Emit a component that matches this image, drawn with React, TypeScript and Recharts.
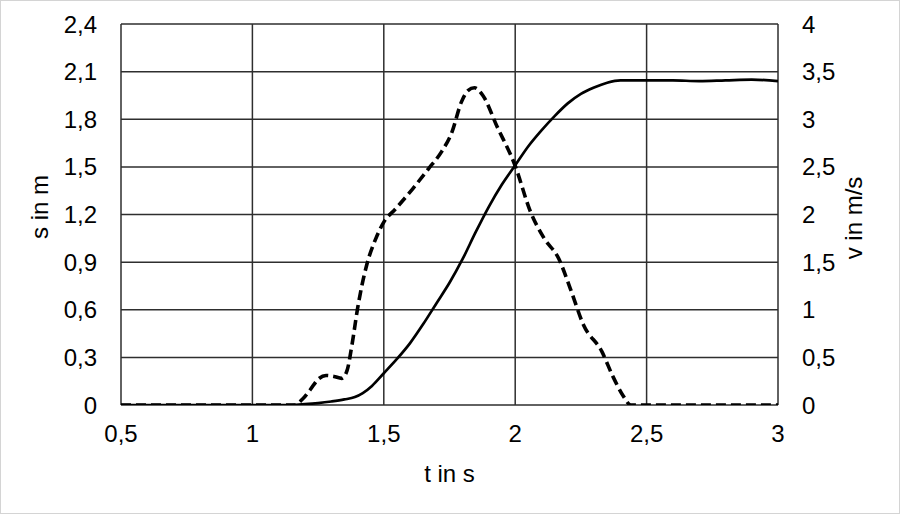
import { LineChart, Line, XAxis, YAxis, CartesianGrid, Label } from "recharts";

// position over time (s in m)
const sTimes = [
  0.5, 1.0, 1.15, 1.2, 1.25, 1.3, 1.35, 1.39, 1.42, 1.455, 1.5, 1.55, 1.6, 1.65,
  1.7, 1.75, 1.8, 1.85, 1.9, 1.95, 2.0, 2.05, 2.1, 2.15, 2.2, 2.25, 2.3, 2.35,
  2.4, 2.5, 2.6, 2.7, 2.8, 2.9, 3.0,
];
const sValues = [
  0, 0, 0, 0.005, 0.012, 0.022, 0.035, 0.05, 0.075, 0.12, 0.2, 0.29, 0.39, 0.51,
  0.64, 0.77, 0.92, 1.09, 1.25, 1.39, 1.51, 1.63, 1.73, 1.82, 1.9, 1.96, 2.0,
  2.03, 2.045, 2.045, 2.045, 2.04, 2.045, 2.05, 2.04,
];

// velocity over time (v in m/s)
const vTimes = [
  0.5, 1.0, 1.16, 1.19, 1.22, 1.25, 1.28, 1.31, 1.34, 1.36, 1.38, 1.4, 1.435,
  1.47, 1.5, 1.545, 1.61, 1.67, 1.72, 1.76, 1.795, 1.82, 1.845, 1.877, 1.93,
  2.0, 2.058, 2.11, 2.165, 2.21, 2.26, 2.33, 2.37, 2.41, 2.44, 2.5, 3.0,
];
const vValues = [
  0, 0, 0, 0.06, 0.16, 0.27, 0.31, 0.3, 0.28, 0.36, 0.65, 1.01, 1.47, 1.75,
  1.92, 2.06, 2.27, 2.48, 2.66, 2.87, 3.18, 3.3, 3.33, 3.25, 2.93, 2.51, 2.03,
  1.75, 1.54, 1.22, 0.84, 0.56, 0.31, 0.1, 0, 0, 0,
];

const xTicks = [0.5, 1, 1.5, 2, 2.5, 3];
const sTicks = [0, 0.3, 0.6, 0.9, 1.2, 1.5, 1.8, 2.1, 2.4];
const vTicks = [0, 0.5, 1, 1.5, 2, 2.5, 3, 3.5, 4];

const sData = sTimes.map((t, i) => ({ t, s: sValues[i] }));
const vData = vTimes.map((t, i) => ({ t, v: vValues[i] }));

const FONT = '"Liberation Sans", Arial, sans-serif';
const comma = (v: number) => String(v).replace(".", ",");
const tickStyle = { fontSize: 24, fill: "#000", fontFamily: FONT };

const RotatedTitle = ({ viewBox, value, dx, cy }: any) => {
  const x = viewBox.x + dx;
  return (
    <text
      x={x}
      y={cy}
      transform={`rotate(-90, ${x}, ${cy})`}
      textAnchor="middle"
      fontSize={24}
      fontFamily={FONT}
      fill="#000"
    >
      {value}
    </text>
  );
};

export default function App() {
  return (
    <div
      style={{
        position: "fixed",
        left: 0,
        top: 0,
        width: 900,
        height: 514,
        background: "#fff",
        border: "1px solid #d4d4d4",
        boxSizing: "border-box",
      }}
    >
      <div style={{ position: "absolute", left: -1, top: -1 }}>
        <LineChart
          width={900}
          height={514}
          margin={{ top: 24, right: 22, left: 20, bottom: 29 }}
        >
          <CartesianGrid
            yAxisId="left"
            stroke="#2e2e2e"
            strokeWidth={1.5}
            fill="none"
          />
          <XAxis
            dataKey="t"
            type="number"
            domain={[0.5, 3]}
            ticks={xTicks}
            tickFormatter={comma}
            tick={tickStyle}
            axisLine={false}
            tickLine={false}
            tickSize={0}
            tickMargin={20}
            height={80}
            allowDataOverflow
          >
            <Label
              value="t in s"
              position="insideBottom"
              offset={3}
              style={{ fontSize: 24, fill: "#000", fontFamily: FONT }}
            />
          </XAxis>
          <YAxis
            yAxisId="left"
            domain={[0, 2.4]}
            ticks={sTicks}
            tickFormatter={comma}
            tick={tickStyle}
            axisLine={false}
            tickLine={false}
            tickSize={0}
            tickMargin={24}
            width={101}
            allowDataOverflow
          >
            <Label
              content={(p: any) => (
                <RotatedTitle {...p} value="s in m" dx={28} cy={207} />
              )}
            />
          </YAxis>
          <YAxis
            yAxisId="right"
            orientation="right"
            domain={[0, 4]}
            ticks={vTicks}
            tickFormatter={comma}
            tick={tickStyle}
            axisLine={false}
            tickLine={false}
            tickSize={0}
            tickMargin={24}
            width={100}
            allowDataOverflow
          >
            <Label
              content={(p: any) => (
                <RotatedTitle {...p} value="v in m/s" dx={84} cy={218} />
              )}
            />
          </YAxis>
          <Line
            yAxisId="left"
            data={sData}
            dataKey="s"
            type="monotone"
            stroke="#000"
            strokeWidth={2.7}
            dot={false}
            activeDot={false}
            isAnimationActive={false}
          />
          <Line
            yAxisId="right"
            data={vData}
            dataKey="v"
            type="monotone"
            stroke="#000"
            strokeWidth={3.6}
            strokeDasharray="10 5"
            dot={false}
            activeDot={false}
            isAnimationActive={false}
          />
        </LineChart>
      </div>
    </div>
  );
}
